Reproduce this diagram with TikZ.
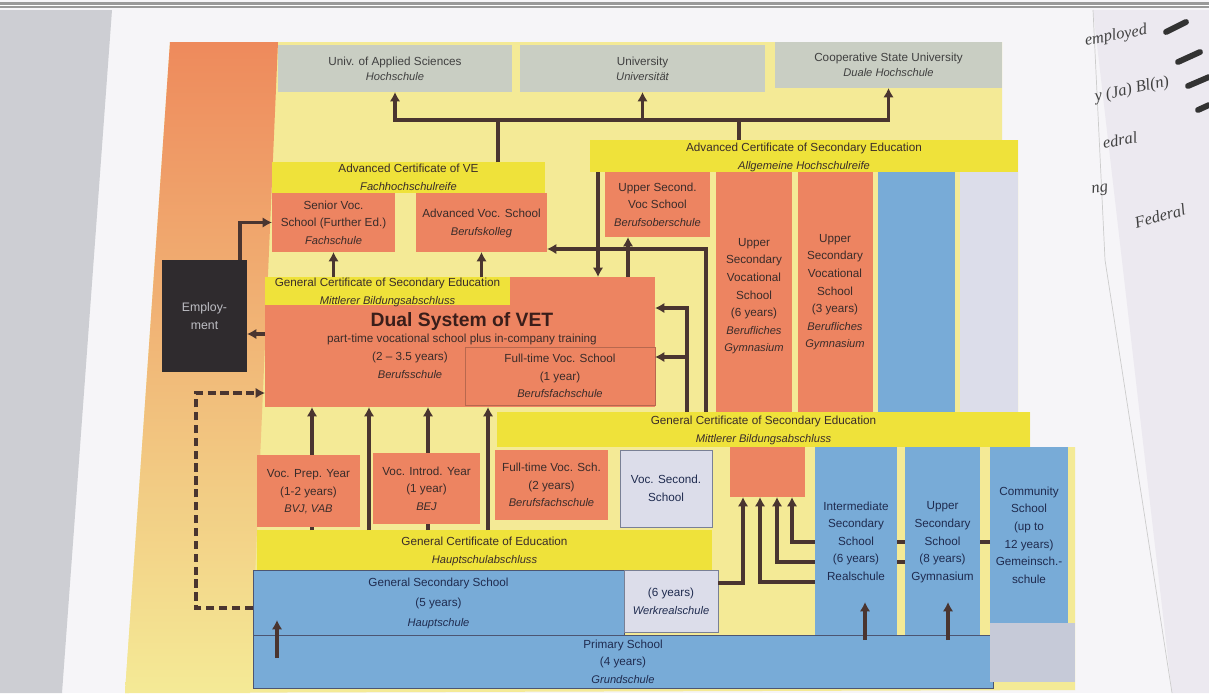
\documentclass[tikz,border=0pt]{standalone}
\usepackage{fontspec}
\setmainfont{Liberation Sans}
\newfontfamily\handfont{Liberation Serif}
\usepackage{xcolor}
\usepackage{tikz}
\usetikzlibrary{arrows.meta}
\usetikzlibrary{positioning}

\definecolor{paleyellow}{HTML}{F4EA96}
\definecolor{bandyellow}{HTML}{EFE23A}
\definecolor{vetorange}{HTML}{ED8461}
\definecolor{leftorange}{HTML}{EE8A5C}
\definecolor{leftbeige}{HTML}{F3CDAE}
\definecolor{unigray}{HTML}{C9CEC3}
\definecolor{schoolblue}{HTML}{78ABD7}
\definecolor{lavender}{HTML}{DCDDEA}
\definecolor{lowgray}{HTML}{C6CAD8}
\definecolor{empblack}{HTML}{2F2B2E}
\definecolor{emptext}{HTML}{BEBEC4}
\definecolor{arrowbrown}{HTML}{4A3530}
\definecolor{textdark}{HTML}{3A2C2A}
\definecolor{dualtext}{HTML}{3A1E1A}
\definecolor{textblue}{HTML}{1F2B4F}
\definecolor{ftvsline}{HTML}{B8684E}
\definecolor{papergray}{HTML}{CDCED3}
\definecolor{paperwhite}{HTML}{F6F5F8}
\definecolor{notebook}{HTML}{ECE9F0}

\newcommand{\germ}[1]{{\fontsize{9.5}{15}\selectfont\itshape #1}}

\begin{document}
\begin{tikzpicture}[
        x=0.03cm, y=-0.03cm,
        area/.style args={#1/#2/#3/#4}{minimum width={(#3-#1)*0.03cm},
          minimum height={(#4-#2)*0.03cm}, at={({(#1+#3)/2},{(#2+#4)/2})}},
        plainbox/.style={inner sep=0pt, outer sep=0pt, align=center, text=textdark,
          text depth=0pt, font=\fontsize{10}{15}\selectfont},
        orangebox/.style={plainbox, fill=vetorange},
        bandbox/.style={plainbox, fill=bandyellow},
        unibox/.style={plainbox, fill=unigray, text=black!75, font=\fontsize{10}{13}\selectfont},
        schoolbox/.style={plainbox, fill=schoolblue, text=textblue},
        lavbox/.style={plainbox, fill=lavender, text=textblue},
        empbox/.style={plainbox, fill=empblack, text=emptext, font=\fontsize{10.5}{16}\selectfont},
        boxtext/.style={inner sep=0pt, align=center, text=textdark, text depth=0pt,
          font=\fontsize{10}{15}\selectfont},
        handnote/.style={inner sep=0pt, text=black!75, font=\handfont\itshape\fontsize{14}{14}\selectfont},
        conn/.style={draw=arrowbrown, line width=2.8pt},
        arr/.style={conn, -{Latex[length=8pt,width=9pt]}},
        dasharr/.style={arr, dash pattern=on 7pt off 4pt}
        ]
        \useasboundingbox (0,0) rectangle (1209,693);

        % photo around the sheet
        \fill[paperwhite] (0,0) rectangle (1209,693);
        \fill[papergray] (0,10) -- (112,10) -- (62,693) -- (0,693) -- cycle;
        \fill[notebook] (1093,10) -- (1209,10) -- (1209,693) -- (1172,693) -- cycle;
        \draw[black!20, line width=0.6pt] (1093,10) -- (1105,260) -- (1172,693);
        \fill[black!40] (0,2) rectangle (1209,8);
        \draw[white, line width=0.5pt] (0,5) -- (1209,5);
        \foreach \a/\b/\c/\d in {1166/32/1186/22, 1178/62/1200/52, 1188/86/1209/77, 1198/110/1209/105}
          \draw[black!80, line width=5pt, line cap=round] (\a,\b) -- (\c,\d);
        \node[handnote, rotate=10] (note1) at (1116,36) {employed};
        \node[handnote, rotate=12] (note2) at (1132,90) {y (Ja) Bl(n)};
        \node[handnote, rotate=10] (note3) at (1120,140) {edral};
        \node[handnote, rotate=8] (note4) at (1100,190) {ng};
        \node[handnote, rotate=15] (note5) at (1160,216) {Federal};

        % sheet background
        \fill[paleyellow] (170,42) -- (1002,42) -- (1002,140) -- (1018,140) -- (1018,412)
          -- (1030,412) -- (1030,447) -- (1075,447) -- (1075,690) -- (125,693) -- cycle;
        \shade[top color=leftorange, middle color=leftbeige, bottom color=paleyellow]
          (170,42) -- (278,42) -- (250,693) -- (125,693) -- cycle;

        % higher education
        \node[unibox, area=278/45/512/92] (uas) {Univ. of Applied Sciences\\\germ{Hochschule}};
        \node[unibox, area=520/45/765/92] (uni) {University\\\germ{Universität}};
        \node[unibox, area=775/42/1002/88] (csu) {Cooperative State University\\\germ{Duale Hochschule}};

        \node[bandbox, area=272/162/545/193] (acve) {Advanced Certificate of VE\\\germ{Fachhochschulreife}};
        \node[bandbox, area=590/140/1018/172] (acse) {Advanced Certificate of Secondary Education\\\germ{Allgemeine Hochschulreife}};

        \coordinate (hubL) at (498,120);
        \coordinate (hubR) at (739,120);
        \draw[arr] (acve.north -| hubL) |- (uas.south |- hubL) -- (uas.south);
        \draw[arr] (acve.north -| hubL) |- (csu.south |- hubL) -- (csu.south);
        \draw[arr] (uni.south |- hubL) -- (uni.south);
        \draw[conn] (acse.north -| hubR) -- (hubR);

        % upper secondary
        \node[orangebox, area=272/193/395/252] (senior) {Senior Voc.\\School (Further Ed.)\\\germ{Fachschule}};
        \node[orangebox, area=416/193/547/252] (advvoc) {Advanced Voc. School\\\germ{Berufskolleg}};
        \node[orangebox, area=605/172/710/237] (usvoc) {Upper Second.\\Voc School\\\germ{Berufsoberschule}};
        \node[orangebox, area=716/172/792/412] (colsix) {};
        \node[boxtext] (colsixtext) at (754,295) {Upper\\Secondary\\Vocational\\School\\(6 years)\\\germ{Berufliches}\\\germ{Gymnasium}};
        \node[orangebox, area=798/172/873/412] (colthree) {};
        \node[boxtext] (colthreetext) at (835,291) {Upper\\Secondary\\Vocational\\School\\(3 years)\\\germ{Berufliches}\\\germ{Gymnasium}};
        \node[schoolbox, area=878/172/955/412] (colblue) {};
        \node[lavbox, area=960/172/1018/412] (colgray) {};

        \node[empbox, area=162/260/247/372] (employ) {Employ-\\ment};

        % dual system
        \node[orangebox, area=265/277/655/407] (dual) {};
        \node[bandbox, area=265/277/510/305] (gcseup) {General Certificate of Secondary Education\\\germ{Mittlerer Bildungsabschluss}};
        \node[orangebox, draw=ftvsline, line width=0.5pt, area=465/347/655/405] (ftvs) {Full-time Voc. School\\(1 year)\\\germ{Berufsfachschule}};
        \node[boxtext, text=dualtext, font=\fontsize{16.5}{18}\selectfont\bfseries] (dualtitle) at (462,319) {Dual System of VET};
        \node[boxtext] (dualsub) at (462,338) {part-time vocational school plus in-company training};
        \node[boxtext] (dualyears) at (410,365) {(2 – 3.5 years)\\\germ{Berufsschule}};

        \node[bandbox, area=497/412/1030/447] (gcselow) {General Certificate of Secondary Education\\\germ{Mittlerer Bildungsabschluss}};
        \node[bandbox, area=257/530/712/570] (gce) {General Certificate of Education\\\germ{Hauptschulabschluss}};

        \coordinate (empUp) at (240,0);
        \coordinate (empIn) at (0,334);
        \coordinate (acseDown) at (598,0);
        \coordinate (usvocUp) at (628,0);
        \coordinate (kolleg) at (706,249);
        \coordinate (dualInA) at (687,308);
        \coordinate (dualInB) at (687,357);

        \draw[arr] (employ.north -| empUp) |- (senior.west);
        \draw[arr] (dual.west |- empIn) -- (employ.east |- empIn);
        \draw[arr] (gcseup.north -| senior.south) -- (senior.south);
        \draw[arr] (gcseup.north -| advvoc.south) -- (advvoc.south);
        \draw[arr] (acse.south -| acseDown) -- (dual.north -| acseDown);
        \draw[arr] (gcselow.north -| kolleg) -- (kolleg) -- (advvoc.east |- kolleg);
        \draw[arr] (dual.north -| usvocUp) -- (usvoc.south -| usvocUp);
        \draw[arr] (gcselow.north -| dualInA) -- (dualInA) -- (dual.east |- dualInA);
        \draw[arr] (dualInB) -- (dual.east |- dualInB);

        \foreach \x in {312,369,428,488} {
          \coordinate (up\x) at (\x,0);
          \draw[arr] (gce.north -| up\x) -- (dual.south -| up\x);
        }

        % prevocational year and lower secondary
        \node[orangebox, area=257/455/360/527] (vpy) {Voc. Prep. Year\\(1-2 years)\\\germ{BVJ, VAB}};
        \node[orangebox, area=373/453/480/524] (viy) {Voc. Introd. Year\\(1 year)\\\germ{BEJ}};
        \node[orangebox, area=495/450/608/520] (ftvstwo) {Full-time Voc. Sch.\\(2 years)\\\germ{Berufsfachschule}};
        \node[lavbox, draw=textblue!60, line width=0.5pt, area=620/450/712/527] (vss) {Voc. Second.\\School};

        \node[schoolbox, draw=textblue!80, line width=0.6pt, area=253/635/993/688] (prim) {Primary School\\(4 years)\\\germ{Grundschule}};
        \node[schoolbox, draw=textblue!80, line width=0.6pt, area=253/570/624/635, font=\fontsize{10}{17}\selectfont] (gss) {General Secondary School\\(5 years)\\\germ{Hauptschule}};
        \node[lavbox, draw=textblue!60, line width=0.5pt, area=624/570/718/632] (wrs) {(6 years)\\\germ{Werkrealschule}};

        \coordinate (dashCorner) at (196,608);
        \coordinate (dashTop) at (0,393);
        \draw[dasharr] (gss.west |- dashCorner) -- (dashCorner) |- (dual.west |- dashTop);

        \node[orangebox, area=730/447/805/497] (osb) {};

        \coordinate (fromWrs) at (743,583);
        \coordinate (fromReal) at (760,582);
        \coordinate (fromGym) at (777,562);
        \coordinate (fromCom) at (792,542);

        \node[schoolbox, area=990/447/1068/623] (com) {Community\\School\\(up to\\12 years)\\Gemeinsch.-\\schule};
        \node[plainbox, fill=lowgray, area=990/623/1075/682] (comlow) {};
        \draw[arr] (com.west |- fromCom) -- (fromCom) -- (osb.south -| fromCom);
        \node[schoolbox, area=905/447/980/635] (usg) {Upper\\Secondary\\School\\(8 years)\\Gymnasium};
        \draw[arr] (usg.west |- fromGym) -- (fromGym) -- (osb.south -| fromGym);
        \node[schoolbox, area=815/447/897/635] (int) {Intermediate\\Secondary\\School\\(6 years)\\Realschule};
        \draw[arr] (int.west |- fromReal) -- (fromReal) -- (osb.south -| fromReal);
        \draw[arr] (wrs.east |- fromWrs) -- (fromWrs) -- (osb.south -| fromWrs);

        \coordinate (priGss) at (277,658);
        \coordinate (priReal) at (865,640);
        \coordinate (priGym) at (948,640);
        \foreach \p in {priGss, priReal, priGym}
          \draw[arr] (\p) -- ++(0,-38);
      \end{tikzpicture}
\end{document}
